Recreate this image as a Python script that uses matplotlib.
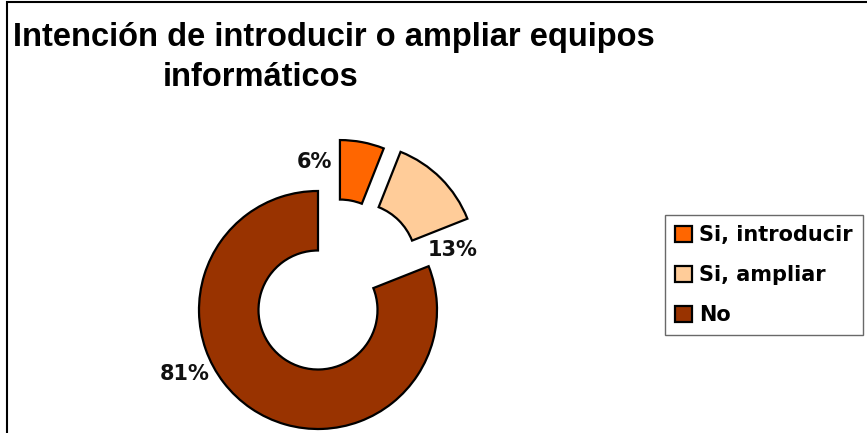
import matplotlib
matplotlib.use("Agg")
import matplotlib.pyplot as plt
import numpy as np
from matplotlib.patches import Rectangle

# Intención de introducir o ampliar equipos informáticos
categorias = ["Si, introducir", "Si, ampliar", "No"]
porcentajes = [6, 13, 81]
colores = ["#FF6600", "#FFCC99", "#993300"]

# slice pull-out: distance (in radii) and direction (deg)
EXPLODE = [(0.466, 66.7), (0.515, 50.8), (0.0, 0.0)]

# label placement: radius and angular shift (deg) from each wedge's mid-angle
LABEL_R = 1.24
LABEL_SHIFT = [12.2, -21.0, -30.1]

W, H = 867, 433
CX, CY, R = 318, 310, 119   # donut centre / radius in pixels

fig = plt.figure(figsize=(W / 100, H / 100), dpi=100)
ax = fig.add_axes([0, 0, 1, 1])
ax.set_axis_off()

wedges, _ = ax.pie(porcentajes, colors=colores,
                   startangle=90, counterclock=False, radius=1.0,
                   wedgeprops=dict(width=0.5, edgecolor="black", linewidth=1.6))
for w, (d, a) in zip(wedges, EXPLODE):
    w.set_center((d * np.cos(np.deg2rad(a)), d * np.sin(np.deg2rad(a))))

ax.set_xlim(-CX / R, (W - CX) / R)
ax.set_ylim(-(H - CY) / R, CY / R)
ax.set_aspect("auto")

for w, p, s in zip(wedges, porcentajes, LABEL_SHIFT):
    mid = np.deg2rad((w.theta1 + w.theta2) / 2 + s)
    ax.text(LABEL_R * np.cos(mid), LABEL_R * np.sin(mid), "%d%%" % p,
            ha="center", va="center", fontsize=15, fontweight="bold",
            family="DejaVu Sans", color="#111111")

# title, two lines as laid out in the sheet
fig.text(13 / W, 1 - 46 / H, "Intención de introducir o ampliar equipos",
         ha="left", va="baseline", fontsize=23.5, fontweight="bold",
         family="Liberation Sans")
fig.text(163 / W, 1 - 86 / H, "informáticos",
         ha="left", va="baseline", fontsize=23.5, fontweight="bold",
         family="Liberation Sans")

# outer chart border
fig.patches.append(Rectangle((7 / W, -0.1), 1.2, 1 - 2 / H + 0.1,
                             transform=fig.transFigure, fill=False,
                             edgecolor="black", linewidth=1.5))

leg = fig.legend(wedges, categorias, loc="upper left",
                 bbox_to_anchor=(665 / W, 1 - 215 / H),
                 frameon=True, fancybox=False, edgecolor="#444444",
                 prop=dict(family="DejaVu Sans", weight="bold", size=15),
                 handlelength=0.8, handleheight=0.8, handletextpad=0.35,
                 labelspacing=0.95, borderpad=0.5, borderaxespad=0)
leg.get_frame().set_linewidth(1.0)

fig.savefig("out.png", dpi=100)
